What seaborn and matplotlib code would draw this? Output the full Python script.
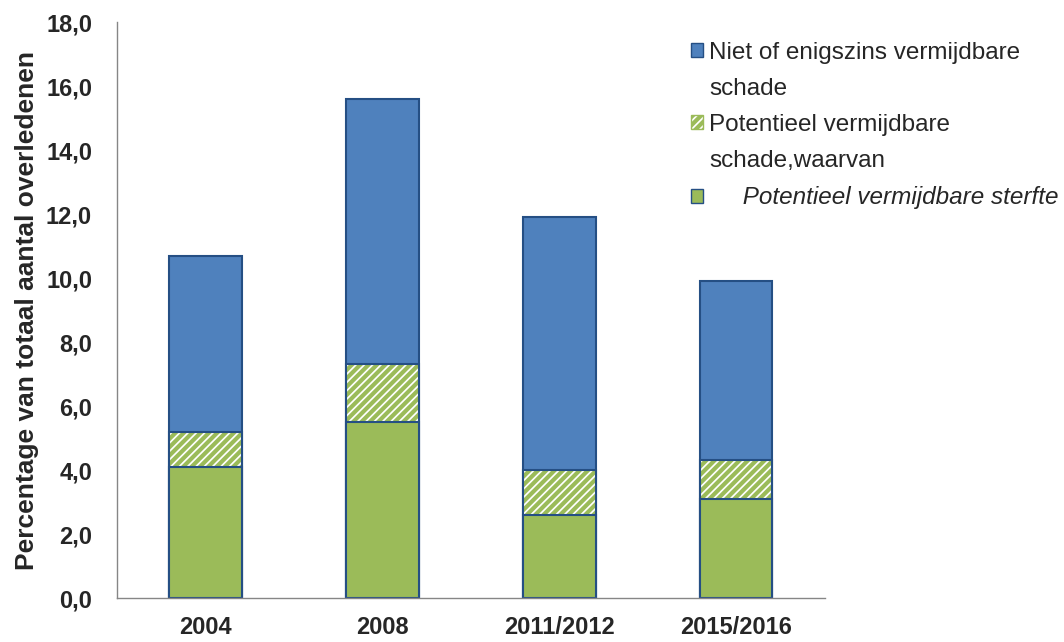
import matplotlib
matplotlib.use("Agg")
import matplotlib.pyplot as plt
import seaborn as sns
from matplotlib.patches import Patch

# data
jaren = ["2004", "2008", "2011/2012", "2015/2016"]
vermijdbare_sterfte = [4.1, 5.5, 2.6, 3.1]
potentieel_vermijdbaar = [1.1, 1.8, 1.4, 1.2]
niet_vermijdbaar = [5.5, 8.3, 7.9, 5.6]

top_hatch = [a + b for a, b in zip(vermijdbare_sterfte, potentieel_vermijdbaar)]
totaal = [t + c for t, c in zip(top_hatch, niet_vermijdbaar)]

blauw = "#4F81BD"
groen = "#9BBB59"
rand = "#254F84"

sns.set_style("white")
plt.rcParams["font.family"] = ["Liberation Sans", "DejaVu Sans"]
plt.rcParams["hatch.linewidth"] = 3.0

fig = plt.figure(figsize=(10.64, 6.42), dpi=100)
ax = fig.add_axes([0.110, 0.0685, 0.665, 0.897])

# bars are drawn on top of each other: total first, then the lower parts
sns.barplot(x=jaren, y=totaal, color=blauw, width=0.41, saturation=1,
            edgecolor=rand, linewidth=1.5, ax=ax)
sns.barplot(x=jaren, y=top_hatch, color="white", width=0.41, saturation=1,
            edgecolor=groen, linewidth=0, hatch="////", ax=ax)
sns.barplot(x=jaren, y=top_hatch, fill=False, width=0.41,
            edgecolor=rand, linewidth=1.5, ax=ax)
sns.barplot(x=jaren, y=vermijdbare_sterfte, color=groen, width=0.41, saturation=1,
            edgecolor=rand, linewidth=1.5, ax=ax)

ax.set_ylim(0, 18)
ax.set_xlim(-0.5, 3.5)
ax.set_yticks(range(0, 19, 2))
ax.set_yticklabels([f"{v:.1f}".replace(".", ",") for v in range(0, 19, 2)],
                   fontsize=17, fontweight="bold")
ax.set_xticks([-0.5, 0.5, 1.5, 2.5, 3.5], minor=False)
ax.set_xticklabels([])
ax.set_xticks(range(4), minor=True)
ax.set_xticklabels(jaren, minor=True, fontsize=17, fontweight="bold")
ax.tick_params(axis="x", which="minor", length=0, pad=13)
ax.tick_params(axis="x", which="major", length=6, color="#868686", direction="out")
ax.tick_params(axis="y", length=6, color="#868686", direction="out", pad=12)
ax.set_ylabel("Percentage van totaal aantal overledenen", fontsize=19,
              fontweight="bold", labelpad=5)

for s in ["top", "right"]:
    ax.spines[s].set_visible(False)
for s in ["left", "bottom"]:
    ax.spines[s].set_color("#868686")
    ax.spines[s].set_linewidth(1)

leeg = Patch(visible=False)
handles = [
    Patch(facecolor=blauw, edgecolor=rand),
    leeg,
    Patch(facecolor="white", edgecolor=groen, hatch="////"),
    leeg,
    Patch(facecolor=groen, edgecolor=rand),
]
labels = ["Niet of enigszins vermijdbare", "schade", "Potentieel vermijdbare",
          "schade,waarvan", "     Potentieel vermijdbare sterfte"]
leg = fig.legend(handles=handles, labels=labels, loc="upper left",
                 bbox_to_anchor=(0.640, 0.950), frameon=False, fontsize=17.5,
                 handlelength=0.5, handleheight=0.5, handletextpad=0.25,
                 labelspacing=0.58, borderaxespad=0)
leg.get_texts()[4].set_fontstyle("italic")

fig.savefig("out.png", dpi=100)
